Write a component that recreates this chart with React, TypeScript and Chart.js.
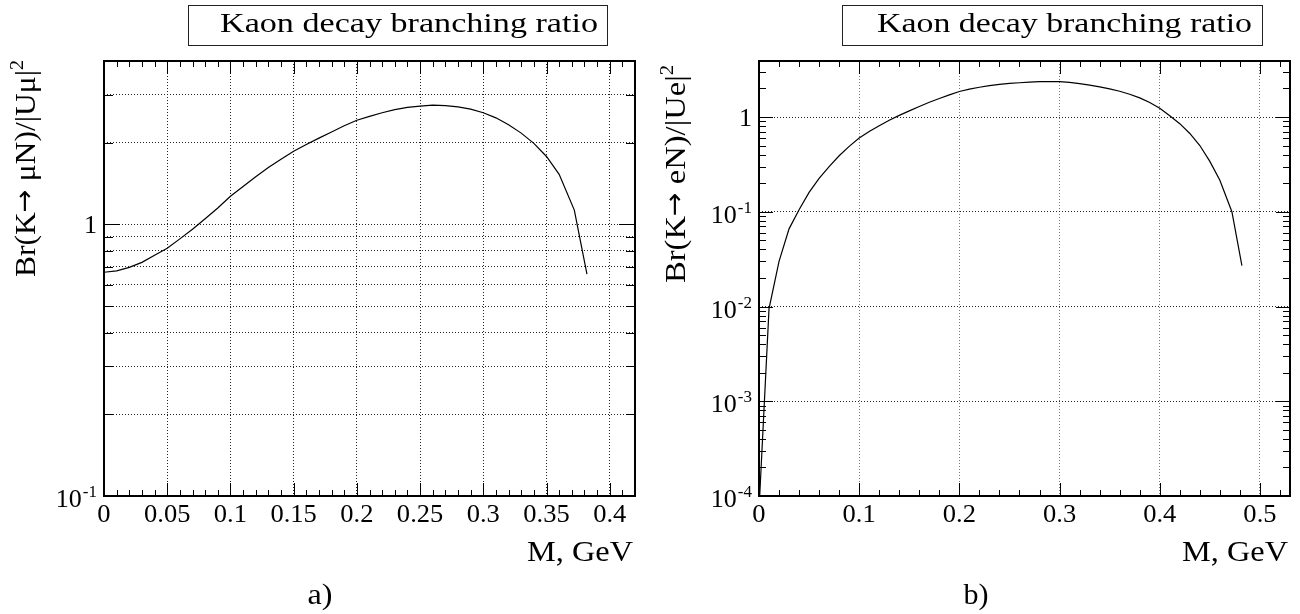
import React, { useEffect, useRef } from 'react';
import { Chart, registerables } from 'chart.js';

Chart.register(...registerables);

const FONT = "'Liberation Serif', 'Times New Roman', serif";
const ARROW_FONT = "'DejaVu Sans', sans-serif";

const plotTitle = 'Kaon decay branching ratio';
const xAxisTitle = 'M, GeV';

// ---- panel a) K -> mu N ----
const massA = [0, 0.01, 0.02, 0.03, 0.04, 0.05, 0.06, 0.07, 0.08, 0.09, 0.1, 0.11, 0.12, 0.13, 0.14, 0.15, 0.16, 0.17, 0.18, 0.19, 0.2, 0.21, 0.22, 0.23, 0.24, 0.25, 0.26, 0.27, 0.28, 0.29, 0.3, 0.31, 0.32, 0.33, 0.34, 0.35, 0.36, 0.372, 0.382];
const brMuA = [0.667, 0.675, 0.695, 0.725, 0.77, 0.818, 0.885, 0.96, 1.05, 1.15, 1.27, 1.38, 1.5, 1.62, 1.74, 1.86, 1.97, 2.08, 2.19, 2.31, 2.42, 2.5, 2.58, 2.65, 2.7, 2.73, 2.75, 2.74, 2.71, 2.66, 2.58, 2.47, 2.33, 2.17, 1.99, 1.78, 1.53, 1.13, 0.656];
const xTicksA = [0, 0.05, 0.1, 0.15, 0.2, 0.25, 0.3, 0.35, 0.4];
const xTickLabelsA = ['0', '0.05', '0.1', '0.15', '0.2', '0.25', '0.3', '0.35', '0.4'];
const xGridA = [0.05, 0.1, 0.15, 0.2, 0.25, 0.3, 0.35, 0.4];
const yTicksA = [0.1, 1];
const yTickBaseA = ['10', '1'];
const yTickExpA = ['-1', ''];
const yGridA = [0.2, 0.3, 0.4, 0.5, 0.6, 0.7, 0.8, 0.9, 1, 2, 3];
const yTitlePartsA = ['Br(K', '\u2192', ' \u03bcN)/|U\u03bc|', '2'];

// ---- panel b) K -> e N ----
const massB = [0.0007, 0.01, 0.02, 0.03, 0.04, 0.05, 0.06, 0.07, 0.08, 0.09, 0.1, 0.11, 0.12, 0.13, 0.14, 0.15, 0.16, 0.17, 0.18, 0.19, 0.2, 0.21, 0.22, 0.23, 0.24, 0.25, 0.26, 0.27, 0.28, 0.29, 0.3, 0.31, 0.32, 0.33, 0.34, 0.35, 0.36, 0.37, 0.38, 0.39, 0.4, 0.41, 0.42, 0.43, 0.44, 0.45, 0.46, 0.472, 0.482];
const brEB = [1e-4, 0.0095, 0.03, 0.066, 0.105, 0.16, 0.225, 0.3, 0.39, 0.49, 0.6, 0.705, 0.81, 0.925, 1.04, 1.16, 1.29, 1.43, 1.57, 1.71, 1.86, 1.97, 2.06, 2.14, 2.21, 2.26, 2.3, 2.33, 2.36, 2.37, 2.36, 2.32, 2.25, 2.17, 2.08, 1.98, 1.87, 1.74, 1.59, 1.42, 1.24, 1.03, 0.85, 0.67, 0.5, 0.34, 0.215, 0.1, 0.027];
const xTicksB = [0, 0.1, 0.2, 0.3, 0.4, 0.5];
const xTickLabelsB = ['0', '0.1', '0.2', '0.3', '0.4', '0.5'];
const xGridB = [0.1, 0.2, 0.3, 0.4, 0.5];
const yTicksB = [1e-4, 1e-3, 1e-2, 1e-1, 1];
const yTickBaseB = ['10', '10', '10', '10', '1'];
const yTickExpB = ['-4', '-3', '-2', '-1', ''];
const yGridB = [1e-3, 1e-2, 1e-1, 1];
const yTitlePartsB = ['Br(K', '\u2192', ' eN)/|Ue|', '2'];

type Panel = {
  xs: number[]; ys: number[];
  xMin: number; xMax: number; yMin: number; yMax: number;
  xTicks: number[]; xLabels: string[]; xGrid: number[]; xMinorStep: number;
  yTicks: number[]; yBase: string[]; yExp: string[]; yGrid: number[];
  yTitle: string[]; panelLabel: string;
  xGridColor: string; yGridColor: string;
  lay: any;
};

const panels: Panel[] = [
  {
    xs: massA, ys: brMuA, xMin: 0, xMax: 0.42, yMin: 0.1, yMax: 4,
    xTicks: xTicksA, xLabels: xTickLabelsA, xGrid: xGridA, xMinorStep: 0.01,
    yTicks: yTicksA, yBase: yTickBaseA, yExp: yTickExpA, yGrid: yGridA,
    yTitle: yTitlePartsA, panelLabel: 'a)', xGridColor: '#222', yGridColor: '#222',
    lay: { plotLeft: 104, plotRight: 635, boxL: 188, boxR: 607, textL: 220, textR: 598, yTitleTop: 60, yTitleBottom: 277, xTitleRight: 633, labelCx: 320, yMajLen: 16, yMinLen: 9 },
  },
  {
    xs: massB, ys: brEB, xMin: 0, xMax: 0.53, yMin: 1e-4, yMax: 3.9,
    xTicks: xTicksB, xLabels: xTickLabelsB, xGrid: xGridB, xMinorStep: 0.02,
    yTicks: yTicksB, yBase: yTickBaseB, yExp: yTickExpB, yGrid: yGridB,
    yTitle: yTitlePartsB, panelLabel: 'b)', xGridColor: '#777', yGridColor: '#222',
    lay: { plotLeft: 109, plotRight: 640, boxL: 192, boxR: 612, textL: 227, textR: 602, yTitleTop: 65, yTitleBottom: 283, xTitleRight: 638, labelCx: 326, yMajLen: 14, yMinLen: 7 },
  },
];

const W = 650;
const H = 614;
const PLOT_TOP = 61;
const PLOT_BOTTOM = 496;

function drawFit(ctx: CanvasRenderingContext2D, text: string, x: number, y: number, size: number, width: number, align: CanvasTextAlign) {
  ctx.font = `${size}px ${FONT}`;
  const w = ctx.measureText(text).width;
  const sx = width / w;
  ctx.save();
  ctx.translate(x, y);
  ctx.scale(sx, 1);
  ctx.textAlign = align;
  ctx.textBaseline = 'alphabetic';
  ctx.fillText(text, 0, 0);
  ctx.restore();
}

function drawStretch(ctx: CanvasRenderingContext2D, text: string, x: number, y: number, size: number, sx: number, align: CanvasTextAlign) {
  ctx.font = `${size}px ${FONT}`;
  ctx.save();
  ctx.translate(x, y);
  ctx.scale(sx, 1);
  ctx.textAlign = align;
  ctx.textBaseline = 'alphabetic';
  ctx.fillText(text, 0, 0);
  ctx.restore();
}

// segments drawn left to right, scaled along the text direction to a target length
function drawSegments(ctx: CanvasRenderingContext2D, segs: { t: string; font: string; dy: number }[], width: number) {
  let total = 0;
  const ws = segs.map((s) => { ctx.font = s.font; const w = ctx.measureText(s.t).width; total += w; return w; });
  const sx = width / total;
  ctx.save();
  ctx.scale(sx, 1);
  ctx.textAlign = 'left';
  ctx.textBaseline = 'alphabetic';
  let x = 0;
  segs.forEach((s, i) => { ctx.font = s.font; ctx.fillText(s.t, x, s.dy); x += ws[i]; });
  ctx.restore();
}

function makePlugin(p: Panel) {
  return {
    id: 'rootStyle',
    afterDraw(chart: any) {
      const ctx: CanvasRenderingContext2D = chart.ctx;
      const xs = chart.scales.x;
      const ys = chart.scales.y;
      const { left, right, top, bottom } = chart.chartArea;
      const L = p.lay;
      ctx.save();
      ctx.fillStyle = '#000';
      ctx.strokeStyle = '#000';

      // tick marks
      ctx.lineWidth = 1;
      ctx.beginPath();
      const xMajorStep = p.xTicks[1] - p.xTicks[0];
      for (let k = 0; ; k++) {
        const v = k * p.xMinorStep;
        if (v > p.xMax + 1e-9) break;
        const r = v / xMajorStep;
        const isMajor = Math.abs(r - Math.round(r)) < 1e-6;
        const len = isMajor ? 13 : 6;
        const px = Math.round(xs.getPixelForValue(v)) + 0.5;
        ctx.moveTo(px, bottom); ctx.lineTo(px, bottom - len);
        ctx.moveTo(px, top); ctx.lineTo(px, top + len);
      }
      const d0 = Math.floor(Math.log10(p.yMin) + 1e-9);
      const d1 = Math.ceil(Math.log10(p.yMax));
      for (let d = d0; d <= d1; d++) {
        for (let m = 1; m <= 9; m++) {
          const v = m * Math.pow(10, d);
          if (v < p.yMin * (1 - 1e-9) || v > p.yMax) continue;
          const len = m === 1 ? L.yMajLen : L.yMinLen;
          const py = Math.round(ys.getPixelForValue(v)) + 0.5;
          ctx.moveTo(left, py); ctx.lineTo(left + len, py);
          ctx.moveTo(right, py); ctx.lineTo(right - len, py);
        }
      }
      ctx.stroke();

      // frame
      ctx.lineWidth = 2;
      ctx.strokeRect(left, top, right - left, bottom - top);

      // x tick labels
      p.xTicks.forEach((v, i) => {
        const px = xs.getPixelForValue(v);
        drawStretch(ctx, p.xLabels[i], px, bottom + 26, 26, 1.02, 'center');
      });

      // y tick labels with exponents
      p.yTicks.forEach((v, i) => {
        const py = ys.getPixelForValue(v);
        const xEnd = left - 7;
        const exp = p.yExp[i];
        if (exp) {
          ctx.font = `17px ${FONT}`;
          const ew = ctx.measureText(exp).width;
          drawStretch(ctx, exp, xEnd, py + 1, 17, 1, 'right');
          drawStretch(ctx, p.yBase[i], xEnd - ew - 1, py + 11, 26, 1, 'right');
        } else {
          drawStretch(ctx, p.yBase[i], xEnd, py + 9, 26, 1, 'right');
        }
      });

      // axis titles
      drawFit(ctx, xAxisTitle, L.xTitleRight, 561, 30, 106, 'right');
      ctx.save();
      ctx.translate(35, L.yTitleBottom);
      ctx.rotate(-Math.PI / 2);
      const t = p.yTitle;
      drawSegments(ctx, [
        { t: t[0], font: `30px ${FONT}`, dy: 0 },
        { t: t[1], font: `26px ${ARROW_FONT}`, dy: -2 },
        { t: t[2], font: `30px ${FONT}`, dy: 0 },
        { t: t[3], font: `19px ${FONT}`, dy: -12 },
      ], L.yTitleBottom - L.yTitleTop);
      ctx.restore();

      // title box
      ctx.fillStyle = '#fff';
      ctx.fillRect(L.boxL, 5, L.boxR - L.boxL, 40);
      ctx.lineWidth = 1;
      ctx.strokeStyle = '#222';
      ctx.strokeRect(L.boxL + 0.5, 5.5, L.boxR - L.boxL, 40);
      ctx.fillStyle = '#000';
      drawFit(ctx, plotTitle, L.textL, 32, 27, L.textR - L.textL, 'left');

      // panel label
      drawFit(ctx, p.panelLabel, L.labelCx, 604, 29, 25, 'center');

      ctx.restore();
    },
  };
}

function PanelChart({ p, offset }: { p: Panel; offset: number }) {
  const ref = useRef<HTMLCanvasElement | null>(null);
  useEffect(() => {
    if (!ref.current) return;
    const L = p.lay;
    const chart = new Chart(ref.current, {
      type: 'line',
      data: {
        datasets: [
          {
            data: p.xs.map((x, i) => ({ x, y: p.ys[i] })),
            borderColor: '#000',
            borderWidth: 1.2,
            pointRadius: 0,
            tension: 0,
            fill: false,
          },
        ],
      },
      options: {
        animation: false,
        responsive: false,
        maintainAspectRatio: false,
        devicePixelRatio: 1,
        events: [],
        layout: { padding: { top: PLOT_TOP, right: W - L.plotRight, bottom: 0, left: 0 } },
        plugins: { legend: { display: false }, tooltip: { enabled: false }, title: { display: false } },
        scales: {
          x: {
            type: 'linear',
            min: p.xMin,
            max: p.xMax,
            bounds: 'data',
            ticks: { display: false },
            grid: { color: p.xGridColor, lineWidth: 1, drawTicks: false },
            border: { display: false, dash: [1, 2] },
            afterBuildTicks: (scale: any) => { scale.ticks = p.xGrid.map((v) => ({ value: v })); },
            afterFit: (scale: any) => { scale.height = H - PLOT_BOTTOM; },
          },
          y: {
            type: 'logarithmic',
            min: p.yMin,
            max: p.yMax,
            bounds: 'data',
            ticks: { display: false },
            grid: { color: p.yGridColor, lineWidth: 1, drawTicks: false },
            border: { display: false, dash: [1, 2] },
            afterBuildTicks: (scale: any) => { scale.ticks = p.yGrid.map((v) => ({ value: v })); },
            afterFit: (scale: any) => { scale.width = L.plotLeft; },
          },
        },
      } as any,
      plugins: [makePlugin(p)],
    });
    return () => chart.destroy();
  }, [p]);
  return (
    <canvas
      ref={ref}
      width={W}
      height={H}
      style={{ position: 'absolute', left: offset, top: 0, width: W, height: H }}
    />
  );
}

export default function App() {
  return (
    <div style={{ position: 'absolute', left: 0, top: 0, width: 1300, height: 614, background: '#fff' }}>
      <PanelChart p={panels[0]} offset={0} />
      <PanelChart p={panels[1]} offset={650} />
    </div>
  );
}
